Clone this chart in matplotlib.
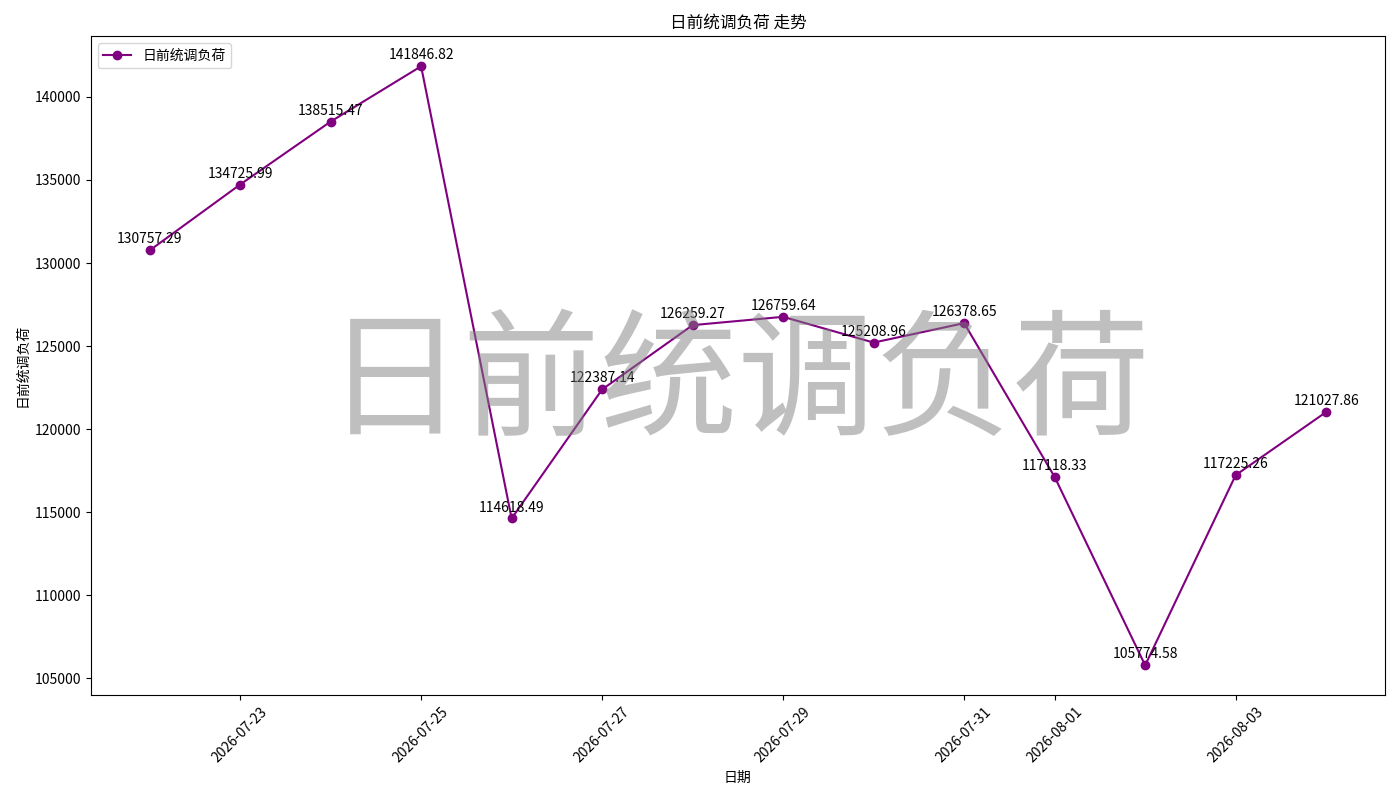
import matplotlib
matplotlib.use('Agg')
import matplotlib.pyplot as plt
import pandas as pd

plt.rcParams['font.family'] = ['Noto Sans CJK SC', 'DejaVu Sans']
plt.rcParams['axes.unicode_minus'] = False

# 数据
dates = pd.date_range('2026-07-22', '2026-08-04', freq='D')
values = [130757.29, 134725.99, 138515.47, 141846.82, 114618.49, 122387.14,
          126259.27, 126759.64, 125208.96, 126378.65, 117118.33, 105774.58,
          117225.26, 121027.86]
name = '日前统调负荷'

fig, ax = plt.subplots(figsize=(14, 8))
ax.plot(dates, values, marker='o', color='purple', label=name)

for d, v in zip(dates, values):
    ax.annotate(f'{v:.2f}', (d, v), textcoords='offset points', xytext=(0, 5),
                ha='center', fontsize=10)

# 水印
ax.text(0.5, 0.47, name, transform=ax.transAxes, fontsize=99, color='gray',
        alpha=0.5, ha='center', va='center')

ax.set_title(name + ' 走势')
ax.set_xlabel('日期')
ax.set_ylabel(name)
ax.legend(loc='upper left')
plt.xticks(rotation=45)
plt.tight_layout()
plt.savefig('out.png', dpi=100)
